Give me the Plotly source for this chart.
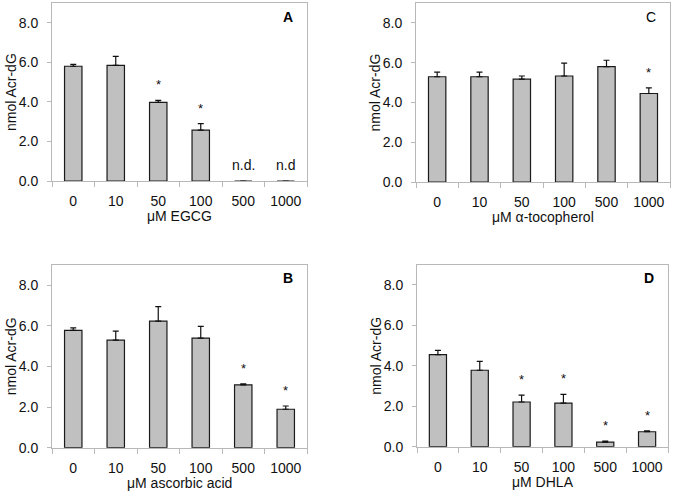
import plotly.graph_objects as go

doses = ["0", "10", "50", "100", "500", "1000"]

egcg_mean = [5.80, 5.85, 3.98, 2.57, 0.0, 0.0]
egcg_err = [0.10, 0.45, 0.10, 0.33, 0.0, 0.0]
egcg_sig = [False, False, True, True, False, False]
egcg_nd = ["", "", "", "", "n.d.", "n.d"]

toco_mean = [5.29, 5.29, 5.17, 5.33, 5.80, 4.45]
toco_err = [0.23, 0.23, 0.16, 0.65, 0.32, 0.28]
toco_sig = [False, False, False, False, False, True]

asc_mean = [5.77, 5.29, 6.22, 5.39, 3.09, 1.89]
asc_err = [0.12, 0.44, 0.72, 0.58, 0.05, 0.16]
asc_sig = [False, False, False, False, True, True]

dhla_mean = [4.55, 3.78, 2.21, 2.16, 0.23, 0.74]
dhla_err = [0.21, 0.44, 0.34, 0.43, 0.05, 0.05]
dhla_sig = [False, False, True, True, True, True]

y_ticks = [0, 2, 4, 6, 8]
y_labels = ["0.0", "2.0", "4.0", "6.0", "8.0"]

FONT = "Liberation Sans, Arial, sans-serif"
W, H = 675, 499

panels = [
    (egcg_mean, egcg_err, egcg_sig, egcg_nd, "μM EGCG", "A", True, 52, 307, 3, 184),
    (toco_mean, toco_err, toco_sig, None, "μM α-tocopherol", "C", False, 416, 670, 3, 185),
    (asc_mean, asc_err, asc_sig, None, "μM ascorbic acid", "B", True, 52, 307, 269, 455),
    (dhla_mean, dhla_err, dhla_sig, None, "μM DHLA", "D", True, 417, 668, 269, 454),
]

idx = list(range(len(doses)))
bounds = [i - 0.5 for i in range(len(doses) + 1)]

fig = go.Figure()
annotations = []
layout = {}

for i, (mean, err, sig, nd, xtitle, letter, bold, x0, x1, yt, yb) in enumerate(panels):
    n = "" if i == 0 else str(i + 1)
    xa, ya = "x" + n, "y" + n
    fig.add_trace(go.Bar(
        x=idx, y=mean, xaxis=xa, yaxis=ya, width=0.41,
        marker=dict(color="#c0c0c0", line=dict(color="#1a1a1a", width=1.2)),
        error_y=dict(type="data", array=err, symmetric=False, arrayminus=[0]*len(err),
                     color="#101010", thickness=1.2, width=3),
        showlegend=False, hoverinfo="skip",
    ))
    dom_x = [x0 / W, x1 / W]
    dom_y = [1 - yb / H, 1 - yt / H]
    layout["xaxis" + n] = dict(
        domain=dom_x, anchor=ya, range=[-0.5, len(doses) - 0.5],
        tickvals=idx, ticktext=doses, ticks="",
        minor=dict(tickvals=bounds, ticks="outside", ticklen=5,
                   tickcolor="#b8b8b8", tickwidth=1, showgrid=False),
        showline=True, linecolor="#b8b8b8", linewidth=1, mirror=True,
        showgrid=False, zeroline=False,
        tickfont=dict(family=FONT, size=14, color="#111"),
        ticklabelstandoff=7,
    )
    layout["yaxis" + n] = dict(
        domain=dom_y, anchor=xa, range=[0, 9],
        tickvals=y_ticks, ticktext=y_labels,
        ticks="outside", ticklen=4, tickcolor="#b8b8b8", tickwidth=1,
        showline=True, linecolor="#b8b8b8", linewidth=1, mirror=True,
        showgrid=False, zeroline=False,
        tickfont=dict(family=FONT, size=14, color="#111"),
        ticklabelstandoff=6,
    )
    for j, (m, e, s) in enumerate(zip(mean, err, sig)):
        if s:
            annotations.append(dict(
                x=j, y=m + e, xref=xa, yref=ya, text="*", showarrow=False,
                yanchor="bottom", yshift=6,
                font=dict(family=FONT, size=13, color="#111")))
    if nd:
        for j, t in enumerate(nd):
            if t:
                annotations.append(dict(
                    x=j, y=0, xref=xa, yref=ya, text=t, showarrow=False,
                    yanchor="bottom", yshift=6,
                    font=dict(family=FONT, size=14, color="#111")))
    annotations.append(dict(
        x=(dom_x[0] + dom_x[1]) / 2, y=1 - (yb + 36) / H, xref="paper", yref="paper",
        text=xtitle, showarrow=False, xanchor="center", yanchor="middle",
        font=dict(family=FONT, size=14, color="#111")))
    annotations.append(dict(
        x=(x0 - 41) / W, y=(dom_y[0] + dom_y[1]) / 2, xref="paper", yref="paper",
        text="nmol Acr-dG", textangle=-90, showarrow=False,
        xanchor="center", yanchor="middle",
        font=dict(family=FONT, size=14, color="#111")))
    annotations.append(dict(
        x=(x1 - 19) / W, y=1 - (yt + 14) / H, xref="paper", yref="paper",
        text=("<b>%s</b>" % letter) if bold else letter, showarrow=False,
        xanchor="center", yanchor="middle",
        font=dict(family=FONT, size=14, color="#000")))

fig.update_layout(
    width=W, height=H, margin=dict(l=0, r=0, t=0, b=0),
    paper_bgcolor="white", plot_bgcolor="white",
    annotations=annotations, **layout,
)

fig.write_html("out.html", config={"displayModeBar": False, "staticPlot": True},
               post_script="document.body.style.margin='0px';document.body.style.overflow='hidden';")
